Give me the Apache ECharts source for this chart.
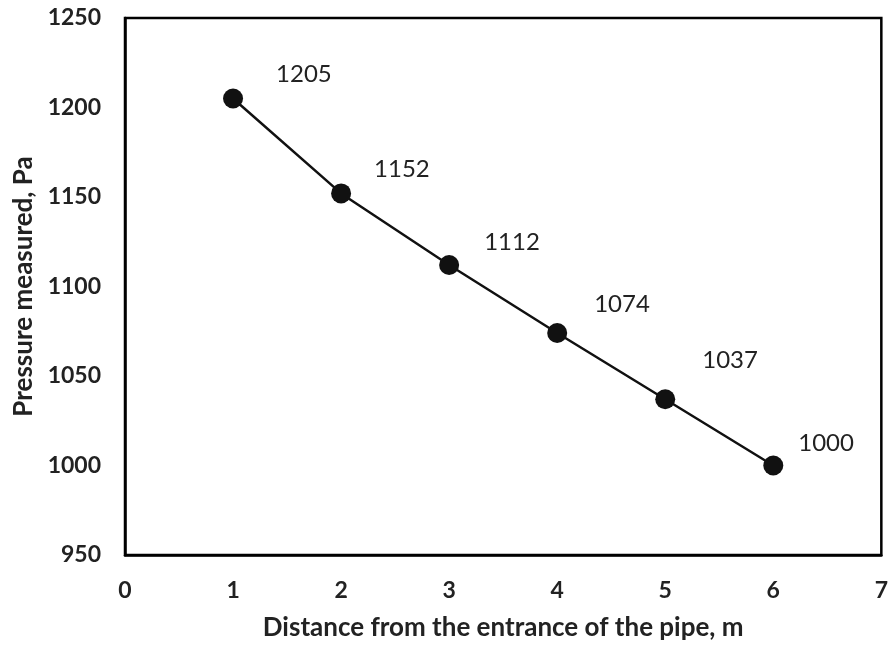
<!DOCTYPE html>
<html>
<head>
<meta charset="utf-8">
<script src="https://cdn.jsdelivr.net/npm/echarts@6/dist/echarts.min.js"></script>
<style>html,body{margin:0;padding:0;background:#fff}#c{width:891px;height:646px}</style>
</head>
<body>
<div id="c"></div>
<script>
const distances = [1, 2, 3, 4, 5, 6];
const pressures = [1205, 1152, 1112, 1074, 1037, 1000];
const xTicks = [0, 1, 2, 3, 4, 5, 6, 7];
const yTicks = [950, 1000, 1050, 1100, 1150, 1200, 1250];
const xName = 'Distance from the entrance of the pipe, m';
const yName = 'Pressure measured, Pa';

const labelOffsets = [[28, -24], [18, -24], [20, -23], [22, -29], [22, -39], [10, -22]];
const FONT = 'Lato';

const chart = echarts.init(document.getElementById('c'));
chart.setOption({
  animation: false,
  backgroundColor: '#fff',
  grid: { left: 125, top: 18, right: 6, bottom: 89, show: true, borderColor: '#000', borderWidth: 2.5, containLabel: false },
  xAxis: {
    type: 'value', min: xTicks[0], max: xTicks[xTicks.length - 1], interval: 1,
    name: xName, nameLocation: 'middle', nameGap: 60,
    nameTextStyle: { fontFamily: FONT, fontWeight: 'bold', fontSize: 26, color: '#222' },
    axisLine: { show: true, lineStyle: { color: '#000', width: 2.5 } },
    axisTick: { show: false },
    splitLine: { show: false },
    axisLabel: { fontFamily: FONT, fontWeight: 'bold', fontSize: 23, color: '#222', margin: 24, formatter: v => String(v) }
  },
  yAxis: {
    type: 'value', min: yTicks[0], max: yTicks[yTicks.length - 1], interval: 50,
    name: yName, nameLocation: 'middle', nameGap: 86,
    nameTextStyle: { fontFamily: FONT, fontWeight: 'bold', fontSize: 26, color: '#222' },
    axisLine: { show: true, lineStyle: { color: '#000', width: 2.5 } },
    axisTick: { show: false },
    splitLine: { show: false },
    axisLabel: { fontFamily: FONT, fontWeight: 'bold', fontSize: 23, color: '#222', margin: 24, formatter: v => String(v) }
  },
  series: [{
    type: 'line',
    data: distances.map((d, i) => ({
      value: [d, pressures[i]],
      label: { offset: labelOffsets[i] }
    })),
    symbol: 'circle', symbolSize: 20,
    itemStyle: { color: '#111' },
    lineStyle: { color: '#111', width: 2.5 },
    label: {
      show: true, position: 'right', fontFamily: FONT, fontSize: 24, color: '#222',
      formatter: p => String(p.value[1])
    }
  }]
});
</script>
</body>
</html>
